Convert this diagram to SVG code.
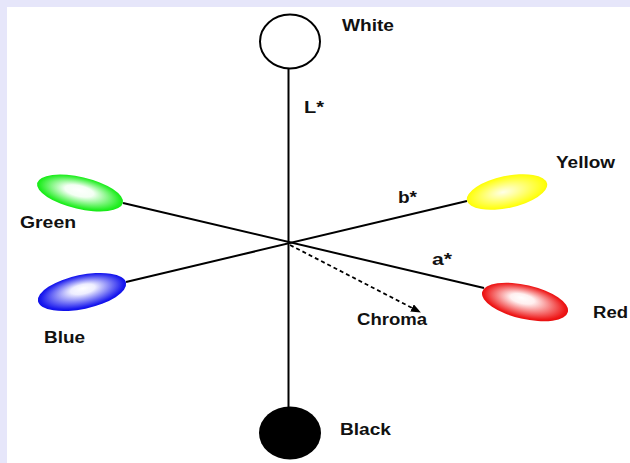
<svg xmlns="http://www.w3.org/2000/svg" width="630" height="463" viewBox="0 0 630 463">
<defs>
<style>
.lbl{font-family:"Liberation Sans",Arial,sans-serif;font-weight:bold;font-size:16px;fill:#111}
.ax{stroke:#000;stroke-width:2;fill:none}
</style>
<radialGradient id="gG" cx="50%" cy="50%" r="55%" fx="48%" fy="42%"><stop offset="0" stop-color="#fff"/><stop offset="0.3" stop-color="#f4fff4"/><stop offset="0.85" stop-color="#22ee22"/><stop offset="1" stop-color="#00e000"/></radialGradient>
<radialGradient id="gB" cx="50%" cy="50%" r="55%" fx="52%" fy="40%"><stop offset="0" stop-color="#fff"/><stop offset="0.25" stop-color="#eeeeff"/><stop offset="0.85" stop-color="#1a1aee"/><stop offset="1" stop-color="#0000e0"/></radialGradient>
<radialGradient id="gY" cx="50%" cy="50%" r="55%" fx="45%" fy="48%"><stop offset="0" stop-color="#ffffe8"/><stop offset="0.3" stop-color="#ffffa0"/><stop offset="0.85" stop-color="#ffff10"/><stop offset="1" stop-color="#f4f400"/></radialGradient>
<radialGradient id="gR" cx="50%" cy="50%" r="55%" fx="45%" fy="40%"><stop offset="0" stop-color="#fff"/><stop offset="0.25" stop-color="#fff0f0"/><stop offset="0.85" stop-color="#ee1a1a"/><stop offset="1" stop-color="#e00000"/></radialGradient>
<marker id="arr" markerWidth="10" markerHeight="8" refX="9" refY="4" orient="auto" markerUnits="userSpaceOnUse"><path d="M0,0 L10,4 L0,8 z" fill="#000"/></marker>
</defs>
<rect x="0" y="0" width="630" height="463" fill="#e6e6fa"/>
<rect x="7" y="7" width="623" height="456" fill="#fff"/>
<g id="connectors">
<line class="ax" x1="288.5" y1="68" x2="288.5" y2="407"/>
<line class="ax" x1="123" y1="203" x2="484" y2="288"/>
<line class="ax" x1="126" y1="282" x2="467" y2="201"/>
<line x1="290" y1="245" x2="420" y2="312" stroke="#000" stroke-width="1.8" stroke-dasharray="4,3" marker-end="url(#arr)"/>
</g>
<g id="white"><ellipse cx="290" cy="41.5" rx="30" ry="27" fill="#fff" stroke="#000" stroke-width="2"/><text class="lbl" x="342" y="31" textLength="52" lengthAdjust="spacingAndGlyphs">White</text></g>
<g id="black"><ellipse cx="290" cy="433" rx="31" ry="26.5" fill="#000"/><text class="lbl" x="340" y="435" textLength="51" lengthAdjust="spacingAndGlyphs">Black</text></g>
<g id="green"><ellipse cx="80" cy="193" rx="44" ry="16" fill="url(#gG)" transform="rotate(13 80 193)"/><text class="lbl" x="20" y="228" textLength="56" lengthAdjust="spacingAndGlyphs">Green</text></g>
<g id="blue"><ellipse cx="82" cy="292" rx="45" ry="17" fill="url(#gB)" transform="rotate(-12 82 292)"/><text class="lbl" x="44" y="343" textLength="41" lengthAdjust="spacingAndGlyphs">Blue</text></g>
<g id="yellow"><ellipse cx="507" cy="192" rx="41" ry="16" fill="url(#gY)" transform="rotate(-12 507 192)"/><text class="lbl" x="556" y="168" textLength="59" lengthAdjust="spacingAndGlyphs">Yellow</text></g>
<g id="red"><ellipse cx="525" cy="302" rx="44" ry="17" fill="url(#gR)" transform="rotate(13 525 302)"/><text class="lbl" x="593" y="318" textLength="35" lengthAdjust="spacingAndGlyphs">Red</text></g>
<g id="labels">
<text class="lbl" x="304" y="113" textLength="20" lengthAdjust="spacingAndGlyphs">L*</text>
<text class="lbl" x="398" y="203" textLength="19" lengthAdjust="spacingAndGlyphs">b*</text>
<text class="lbl" x="432" y="265" textLength="20" lengthAdjust="spacingAndGlyphs">a*</text>
<text class="lbl" x="357" y="325" textLength="70" lengthAdjust="spacingAndGlyphs">Chroma</text>
</g>
</svg>
